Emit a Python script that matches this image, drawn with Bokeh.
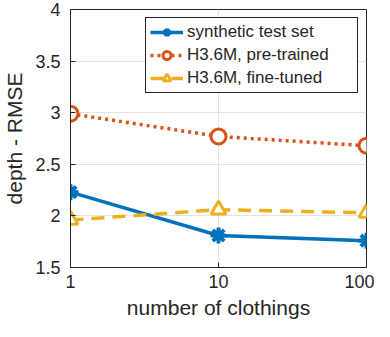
from bokeh.plotting import figure
from bokeh.models import FixedTicker, CustomJSTickFormatter, Range1d, Legend, LegendItem
from bokeh.embed import file_html
from bokeh.resources import INLINE

clothings = [1, 10, 100]
synthetic = [2.23, 1.81, 1.76]
pretrained = [2.99, 2.77, 2.68]
finetuned = [1.96, 2.06, 2.03]
y_ticks = [1.5, 2, 2.5, 3, 3.5, 4]
x_ticks = [1, 10, 100]

FONT = "Liberation Sans"
DARK = "#262626"

p = figure(width=374, height=321, x_axis_type="log", output_backend="svg",
           toolbar_location=None, x_range=Range1d(1, 100), y_range=Range1d(1.5, 4),
           min_border_left=56, min_border_right=8, min_border_top=9, min_border_bottom=0)

p.xaxis.ticker = FixedTicker(ticks=x_ticks)
p.yaxis.ticker = FixedTicker(ticks=y_ticks)
p.xaxis.formatter = CustomJSTickFormatter(code="return String(Math.round(tick));")
p.yaxis.formatter = CustomJSTickFormatter(code="return String(tick);")
p.xaxis.minor_tick_line_color = None
p.yaxis.minor_tick_line_color = None
for ax in (p.xaxis, p.yaxis):
    ax.major_tick_in = 5
    ax.major_tick_out = 0
    ax.axis_line_color = DARK
    ax.major_tick_line_color = DARK
    ax.major_label_text_font = FONT
    ax.major_label_text_font_size = "18px"
    ax.major_label_text_color = DARK
    ax.axis_label_text_font = FONT
    ax.axis_label_text_font_size = "21px"
    ax.axis_label_text_font_style = "normal"
    ax.axis_label_text_color = DARK
p.xaxis.axis_label = "number of clothings"
p.yaxis.axis_label = "depth - RMSE"
p.xaxis.major_label_standoff = 7
p.yaxis.major_label_standoff = 10
p.xaxis.axis_label_standoff = 5
p.yaxis.axis_label_standoff = 6

p.xgrid.grid_line_color = "#e3e3e3"
p.ygrid.grid_line_color = "#e3e3e3"
p.xgrid.ticker = FixedTicker(ticks=x_ticks)
p.outline_line_color = DARK
p.outline_line_width = 1
p.outline_line_alpha = 1

BLUE = "#0072BD"
ORANGE = "#D95319"
YELLOW = "#EDB120"

l1 = p.line(clothings, synthetic, line_color=BLUE, line_width=3.5)
m1 = p.scatter(clothings, synthetic, marker="asterisk", size=16, line_color=BLUE, line_width=4)
l2 = p.line(clothings, pretrained, line_color=ORANGE, line_width=3.5, line_dash="3 4")
m2 = p.scatter(clothings, pretrained, marker="circle", size=15, line_color=ORANGE, fill_color="white", line_width=3)
l3 = p.line(clothings, finetuned, line_color=YELLOW, line_width=3.5, line_dash="13 8")
m3 = p.scatter(clothings, finetuned, marker="triangle", size=15, line_color=YELLOW, fill_color="white", line_width=3)

legend = Legend(items=[
    LegendItem(label="synthetic test set", renderers=[l1, m1]),
    LegendItem(label="H3.6M, pre-trained", renderers=[l2, m2]),
    LegendItem(label="H3.6M, fine-tuned", renderers=[l3, m3]),
], location="top_right")
legend.label_text_font = FONT
legend.label_text_font_size = "17px"
legend.label_text_color = DARK
legend.border_line_color = DARK
legend.border_line_width = 1
legend.border_line_alpha = 1
legend.glyph_width = 33
legend.glyph_height = 20
legend.label_height = 20
legend.label_width = 166
legend.label_standoff = 4
legend.spacing = 3
legend.padding = 4
legend.margin = 8
p.add_layout(legend)

open("out.html", "w").write(file_html(p, INLINE))
